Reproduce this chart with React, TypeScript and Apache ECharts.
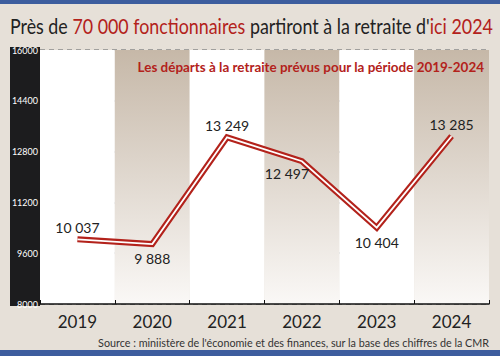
import React, { useEffect, useRef } from "react";
import * as echarts from "echarts";

const years = ["2019", "2020", "2021", "2022", "2023", "2024"];
const departures = [10037, 9888, 13249, 12497, 10404, 13285];
const labelPositions = ["top", "bottom", "top", "bottom", "bottom", "top"];
const yMin = 8000;
const yMax = 16000;
const yStep = 1600;

const FONT = "Lato";
const RED = "#b3221b";

const fmt = (v: number) => String(v).replace(/\B(?=(\d{3})+(?!\d))/g, " ");

export default function App() {
  const ref = useRef<HTMLDivElement>(null);
  useEffect(() => {
    const chart = echarts.init(ref.current!, undefined, { renderer: "svg" });
    const bandGradient = new echarts.graphic.LinearGradient(0, 0, 0, 1, [
      { offset: 0, color: "#c6b8a8" },
      { offset: 1, color: "#faf8f6" },
    ]);
    chart.setOption({
      animation: false,
      backgroundColor: "#e6e0d8",
      grid: { left: 40, right: 11, top: 50, bottom: 52 },
      graphic: [
        { type: "rect", shape: { x: 0, y: 0, width: 500, height: 4 }, style: { fill: "#3d5d9e" } },
        { type: "rect", shape: { x: 0, y: 350, width: 500, height: 6 }, style: { fill: "#3d5d9e" } },
        { type: "rect", shape: { x: 10, y: 47, width: 30, height: 259 }, style: { fill: "#1c1c1e" }, z: 0 },
        {
          type: "text",
          x: 10,
          y: 26,
          scaleX: 0.85,
          style: {
            x: 0,
            y: 0,
            align: "left",
            verticalAlign: "middle",
            text: "{d|Près de }{r|70 000 fonctionnaires}{d| partiront à la retraite d'}{r|ici 2024}",
            rich: {
              d: { fontFamily: FONT, fontSize: 21, fill: "#222" },
              r: { fontFamily: FONT, fontSize: 21, fill: RED },
            },
          },
        },
        {
          type: "text",
          x: 484,
          y: 66,
          scaleX: 0.96,
          z: 10,
          style: {
            x: 0,
            y: 0,
            align: "right",
            verticalAlign: "middle",
            text: "Les départs à la retraite prévus pour la période 2019-2024",
            fontFamily: FONT,
            fontSize: 14,
            fontWeight: "bold",
            fill: RED,
          },
        },
        {
          type: "text",
          x: 489,
          y: 342,
          scaleX: 0.98,
          style: {
            x: 0,
            y: 0,
            align: "right",
            verticalAlign: "middle",
            text: "Source : miniistère de l'économie et des finances, sur la base des chiffres de la CMR",
            fontFamily: FONT,
            fontSize: 11,
            fill: "#333",
          },
        },
      ],
      xAxis: {
        type: "category",
        data: years,
        boundaryGap: true,
        axisLine: { show: true, lineStyle: { color: "#111", width: 1.5 } },
        axisTick: { show: true, inside: true, length: 4, lineStyle: { color: "#111" } },
        axisLabel: { fontFamily: FONT, fontSize: 17, color: "#222", margin: 9 },
        splitArea: { show: true, areaStyle: { color: ["#ffffff", bandGradient] } },
        z: 3,
      },
      yAxis: {
        type: "value",
        min: yMin,
        max: yMax,
        interval: yStep,
        axisLine: { show: false },
        axisTick: { show: false },
        axisLabel: {
          fontFamily: FONT,
          fontSize: 9,
          color: "#fff",
          margin: 2,
          formatter: (v: number) => String(v),
        },
        splitLine: { show: true, lineStyle: { color: "#8a8a8a", width: 1.5, type: [5, 4] } },
      },
      series: [
        {
          type: "line",
          data: departures,
          symbol: "none",
          z: 4,
          lineStyle: { color: RED, width: 6, join: "miter" },
        },
        {
          type: "line",
          data: departures.map((v, i) => ({
            value: v,
            label: {
              position: labelPositions[i],
              distance: labelPositions[i] === "top" ? 4 : 7,
              offset: i === 3 ? [-15, -2] : [0, 0],
            },
          })),
          symbol: "circle",
          symbolSize: 1,
          showSymbol: true,
          itemStyle: { color: "rgba(0,0,0,0)" },
          z: 5,
          lineStyle: { color: "#ffffff", width: 1.8, join: "miter" },
          label: {
            show: true,
            fontFamily: FONT,
            fontSize: 14,
            color: "#222",
            formatter: (p: any) => fmt(p.value),
          },
        },
      ],
    });
    return () => chart.dispose();
  }, []);
  return <div ref={ref} style={{ position: "absolute", left: 0, top: 0, width: 500, height: 356 }} />;
}
